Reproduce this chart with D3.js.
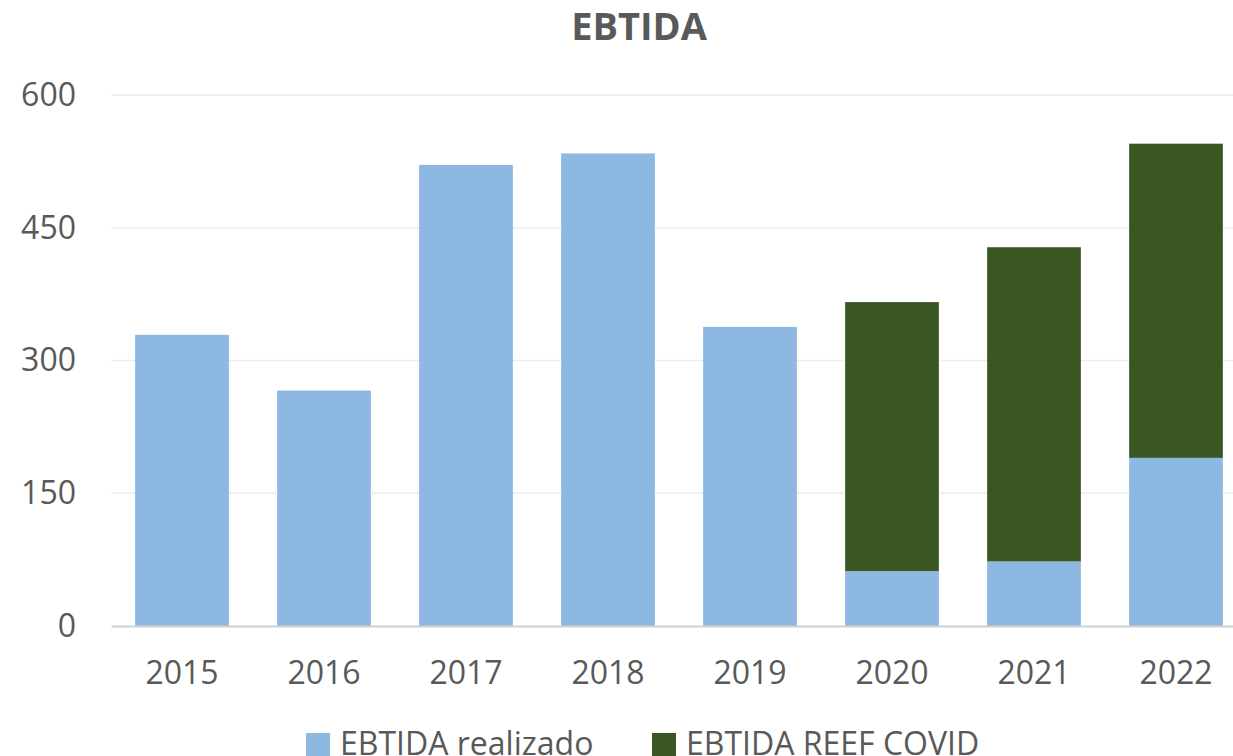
<!DOCTYPE html>
<html><head><meta charset="utf-8">
<script src="https://cdn.jsdelivr.net/npm/d3@7"></script>
<style>body{margin:0;background:#fff;}svg{display:block;font-family:"Open Sans",sans-serif;}</style>
</head><body><svg id="c" width="1233" height="756"></svg>
<script>
const categories = ["2015","2016","2017","2018","2019","2020","2021","2022"];
const realizado = [329, 266, 521, 534, 338, 62, 73, 190];
const reefCovid = [0, 0, 0, 0, 0, 304, 355, 355];
const yTicks = [0, 150, 300, 450, 600];
const seriesNames = ["EBTIDA realizado", "EBTIDA REEF COVID"];
const colors = ["#8DB8E2", "#3A5723"];

const svg = d3.select("#c");
const m = {l:111, r:1247, t:95, b:626};
const x = d3.scaleBand().domain(categories).range([m.l, m.r]).paddingInner(0.34).paddingOuter(0.17);
const y = d3.scaleLinear().domain([0, 600]).range([m.b, m.t]);

svg.append("text").attr("x", 639).attr("y", 40).attr("text-anchor","middle")
  .attr("font-size", 38).attr("font-weight","bold").attr("fill","#595959").text("EBTIDA");

// grid
svg.append("g").selectAll("line").data(yTicks.filter(d=>d>0)).join("line")
  .attr("x1", m.l).attr("x2", m.r).attr("y1", d=>y(d)).attr("y2", d=>y(d))
  .attr("stroke","#ececec").attr("stroke-width",1.5);

const yAxis = svg.append("g").attr("transform",`translate(${m.l},0)`)
  .call(d3.axisLeft(y).tickValues(yTicks).tickSize(0).tickPadding(35));
yAxis.select(".domain").remove();
yAxis.selectAll("text").attr("font-size",32).attr("fill","#595959").attr("font-family","Open Sans, sans-serif");

const data = categories.map((c,i)=>({cat:c, realizado:realizado[i], reefCovid:reefCovid[i]}));
const stack = d3.stack().keys(["realizado","reefCovid"])(data);
svg.append("g").selectAll("g").data(stack).join("g").attr("fill",(d,i)=>colors[i])
  .selectAll("rect").data(d=>d).join("rect")
  .attr("x", d=>x(d.data.cat)).attr("width", x.bandwidth())
  .attr("y", d=>y(d[1])).attr("height", d=>y(d[0])-y(d[1]));

const xAxis = svg.append("g").attr("transform",`translate(0,${m.b})`)
  .call(d3.axisBottom(x).tickSize(0).tickPadding(35));
xAxis.select(".domain").attr("stroke","#d0d0d0").attr("stroke-width",2);
xAxis.selectAll("text").attr("font-size",32).attr("fill","#595959").attr("font-family","Open Sans, sans-serif");

// legend
const legX = [306, 652];
const lg = svg.append("g").selectAll("g").data(seriesNames).join("g")
  .attr("transform",(d,i)=>`translate(${legX[i]},733)`);
lg.append("rect").attr("width",24).attr("height",24).attr("fill",(d,i)=>colors[i]);
lg.append("text").attr("x",34).attr("y",22).attr("font-size",32).attr("fill","#595959").text(d=>d);
</script></body></html>
